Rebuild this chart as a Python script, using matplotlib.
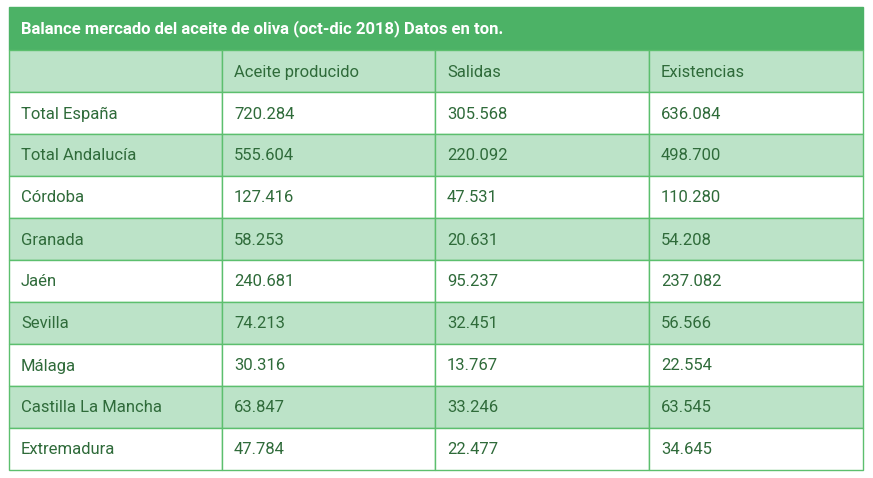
import matplotlib.pyplot as plt
from matplotlib.patches import Rectangle

title = "Balance mercado del aceite de oliva (oct-dic 2018) Datos en ton."
columns = ["", "Aceite producido", "Salidas", "Existencias"]
regions = ["Total España", "Total Andalucía", "Córdoba", "Granada", "Jaén",
           "Sevilla", "Málaga", "Castilla La Mancha", "Extremadura"]
producido = ["720.284", "555.604", "127.416", "58.253", "240.681",
             "74.213", "30.316", "63.847", "47.784"]
salidas = ["305.568", "220.092", "47.531", "20.631", "95.237",
           "32.451", "13.767", "33.246", "22.477"]
existencias = ["636.084", "498.700", "110.280", "54.208", "237.082",
               "56.566", "22.554", "63.545", "34.645"]

W, H = 873, 478
fig = plt.figure(figsize=(W / 100, H / 100), dpi=100)
ax = fig.add_axes([0, 0, 1, 1])
ax.set_xlim(0, W)
ax.set_ylim(H, 0)
ax.axis("off")

plt.rcParams["font.family"] = "Roboto"
green = "#4cb266"
light = "#bce3c8"
border = "#5cbf6e"
text_col = "#2f6b3a"
col_x = [9, 222, 435, 649, 863]
top, title_h, row_h = 7, 43, 42

# title bar
ax.add_patch(Rectangle((col_x[0], top), col_x[-1] - col_x[0], title_h,
                       facecolor=green, edgecolor=green))
ax.text(col_x[0] + 12, top + title_h / 2, title, color="white",
        fontsize=12, fontweight="bold", va="center", ha="left")

rows = [columns] + [list(r) for r in zip(regions, producido, salidas, existencias)]
for i, row in enumerate(rows):
    y = top + title_h + i * row_h
    bg = light if i % 2 == 0 else "white"
    for j, val in enumerate(row):
        ax.add_patch(Rectangle((col_x[j], y), col_x[j + 1] - col_x[j], row_h,
                               facecolor=bg, edgecolor=border, linewidth=1))
        ax.text(col_x[j] + 12, y + row_h / 2 + 1, val, color=text_col,
                fontsize=12, va="center", ha="left")

fig.savefig("out.png", dpi=100)
